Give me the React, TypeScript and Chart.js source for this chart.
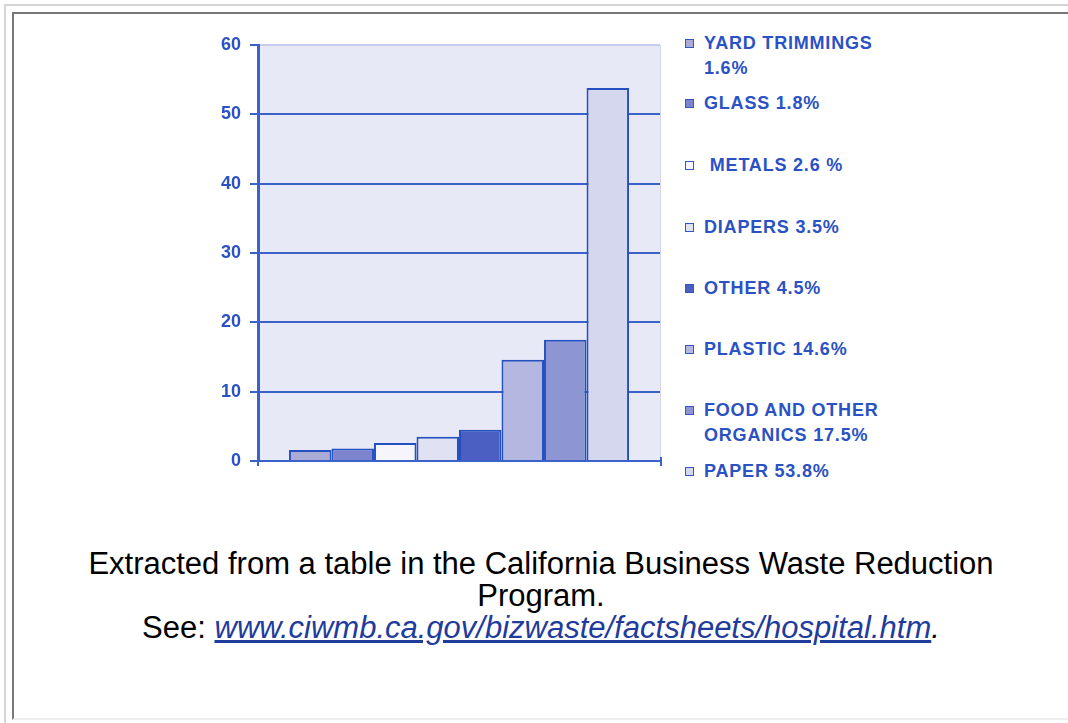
import React, { useEffect, useRef } from "react";
import { Chart, registerables } from "chart.js";

Chart.register(...registerables);

// ---- data ----
const categories = ["Hospital waste"];
const seriesNames = [
  "YARD TRIMMINGS",
  "GLASS",
  "METALS",
  "DIAPERS",
  "OTHER",
  "PLASTIC",
  "FOOD AND OTHER ORGANICS",
  "PAPER",
];
const seriesValues = [1.6, 1.8, 2.6, 3.5, 4.5, 14.6, 17.5, 53.8];
const yTickValues = [0, 10, 20, 30, 40, 50, 60];
const legendLines = [
  ["YARD TRIMMINGS", "1.6%"],
  ["GLASS 1.8%"],
  ["\u00a0METALS 2.6 %"],
  ["DIAPERS 3.5%"],
  ["OTHER 4.5%"],
  ["PLASTIC 14.6%"],
  ["FOOD AND OTHER", "ORGANICS 17.5%"],
  ["PAPER 53.8%"],
];
const captionLines = [
  "Extracted from a table in the California Business Waste Reduction",
  "Program.",
];
const captionSeePrefix = "See: ";
const captionLink = "www.ciwmb.ca.gov/bizwaste/factsheets/hospital.htm";

// ---- styles ----
const barColors = [
  "#a9aad6",
  "#7b84cc",
  "#f5f5fb",
  "#e0e2f3",
  "#4b5ec1",
  "#b4b8e0",
  "#8d95d3",
  "#d5d7ef",
];
const legendTops = [31, 91, 153, 215, 276, 337, 398, 459];
const BLUE = "#3a62c8";
const TEXT_BLUE = "#2a52c4";

const plotBg = {
  id: "plotBg",
  beforeDraw(chart: any) {
    const { ctx, chartArea } = chart;
    if (!chartArea) return;
    ctx.save();
    ctx.fillStyle = "#e8e9f6";
    ctx.fillRect(
      chartArea.left,
      chartArea.top,
      chartArea.right - chartArea.left,
      chartArea.bottom - chartArea.top
    );
    ctx.strokeStyle = "#d2d6ee";
    ctx.lineWidth = 1;
    ctx.beginPath();
    ctx.moveTo(chartArea.right + 0.5, chartArea.top);
    ctx.lineTo(chartArea.right + 0.5, chartArea.bottom);
    ctx.stroke();
    ctx.restore();
  },
  afterDraw(chart: any) {
    const { ctx, chartArea } = chart;
    ctx.save();
    ctx.strokeStyle = BLUE;
    ctx.lineWidth = 2;
    ctx.beginPath();
    ctx.moveTo(chartArea.right + 1, chartArea.bottom - 4);
    ctx.lineTo(chartArea.right + 1, chartArea.bottom + 5);
    ctx.moveTo(chartArea.left, chartArea.bottom);
    ctx.lineTo(chartArea.left, chartArea.bottom + 5);
    ctx.stroke();
    ctx.restore();
  },
};

function ChartCanvas() {
  const ref = useRef<HTMLCanvasElement>(null);
  useEffect(() => {
    if (!ref.current) return;
    const chart = new Chart(ref.current, {
      type: "bar",
      data: {
        labels: categories,
        datasets: seriesNames.map((name, i) => ({
          label: name,
          data: [seriesValues[i]],
          backgroundColor: barColors[i],
          borderColor: "#2450c0",
          borderWidth: 2,
          barPercentage: 1,
          categoryPercentage: 0.846,
        })),
      },
      options: {
        responsive: false,
        animation: false,
        devicePixelRatio: 1,
        layout: { padding: { top: 25, right: 20, bottom: 29, left: 0 } },
        plugins: {
          legend: { display: false },
          tooltip: { enabled: false },
          title: { display: false },
        },
        scales: {
          x: { display: false },
          y: {
            min: 0,
            max: 60,
            afterBuildTicks(scale: any) {
              scale.ticks = yTickValues.map((v) => ({ value: v }));
            },
            afterFit(scale: any) {
              scale.width = 78;
            },
            border: { display: true, color: BLUE, width: 3 },
            grid: {
              color: (c: any) =>
                c.tick && c.tick.value === 60 ? "#c9cdec" : BLUE,
              tickColor: BLUE,
              lineWidth: 2,
              tickLength: 8,
              drawTicks: true,
            },
            ticks: {
              color: TEXT_BLUE,
              padding: 9,
              font: { family: "'Liberation Sans', Arial, sans-serif", size: 18, weight: "bold" },
            },
          },
        },
      },
      plugins: [plotBg],
    });
    return () => chart.destroy();
  }, []);
  return (
    <canvas
      ref={ref}
      width={500}
      height={470}
      style={{ position: "absolute", left: 180, top: 20, width: 500, height: 470 }}
    />
  );
}

export default function App() {
  return (
    <div
      style={{
        position: "absolute",
        left: 0,
        top: 0,
        width: 1068,
        height: 723,
        overflow: "hidden",
        background: "#fff",
      }}
    >
      <div
        style={{
          position: "absolute",
          left: 4,
          top: 4,
          width: 1200,
          height: 900,
          borderTop: "2px solid #d5d5d5",
          borderLeft: "2px solid #d5d5d5",
        }}
      />
      <div
        style={{
          position: "absolute",
          left: 12,
          top: 12,
          width: 1200,
          height: 704,
          borderTop: "2px solid #787878",
          borderLeft: "2px solid #787878",
          borderBottom: "2px solid #eeeeee",
        }}
      />
      <ChartCanvas />
      {legendLines.map((lines, i) => (
        <div
          key={i}
          style={{
            position: "absolute",
            left: 685,
            top: legendTops[i],
            fontFamily: "'Liberation Sans', Arial, sans-serif",
            fontWeight: "bold",
            fontSize: 18,
            letterSpacing: 0.8,
            lineHeight: "25px",
            color: TEXT_BLUE,
            whiteSpace: "nowrap",
          }}
        >
          <span
            style={{
              position: "absolute",
              left: 0,
              top: 8,
              width: 7,
              height: 7,
              background: barColors[i],
              border: "1.5px solid #3557c4",
            }}
          />
          {lines.map((l, j) => (
            <div key={j} style={{ paddingLeft: 19 }}>
              {l}
            </div>
          ))}
        </div>
      ))}
      <div
        style={{
          position: "absolute",
          left: 14,
          width: 1054,
          top: 548,
          textAlign: "center",
          fontFamily: "'Liberation Sans', Arial, sans-serif",
          fontSize: 31,
          lineHeight: "32px",
          color: "#000",
        }}
      >
        {captionLines.map((l, i) => (
          <div key={i} style={{ whiteSpace: "nowrap" }}>
            {l}
          </div>
        ))}
        <div style={{ whiteSpace: "nowrap" }}>
          {captionSeePrefix}
          <i>
            <a href="#" style={{ color: "#1f3c9c", textDecoration: "underline" }}>
              {captionLink}
            </a>
            .
          </i>
        </div>
      </div>
    </div>
  );
}
